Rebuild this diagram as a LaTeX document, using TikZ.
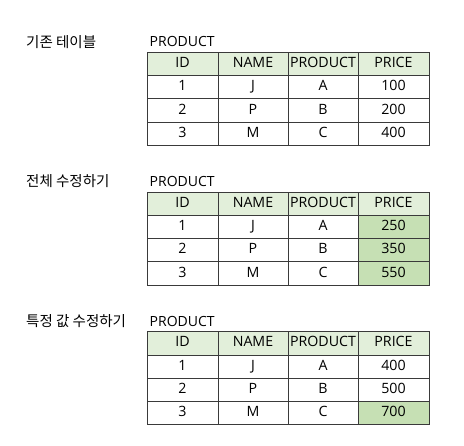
\documentclass[tikz,border=0pt]{standalone}
\usepackage{fontspec}
\setmainfont{Open Sans}
\newfontfamily\krfont{Noto Sans CJK KR}
\definecolor{gridclr}{HTML}{3A3A3A}
\definecolor{headclr}{HTML}{E2EFDA}
\definecolor{hiclr}{HTML}{C6E0B4}
\tikzset{
  cell/.style={draw=gridclr, line width=0.8pt, inner sep=0pt, minimum height=23.25pt,
    text height=1.55ex, text depth=0.2ex, font=\fontsize{14.2}{16}\selectfont},
  wideA/.style={minimum width=71pt},
  wideB/.style={minimum width=70pt},
  lbl/.style={anchor=west, inner sep=0pt, font=\fontsize{14}{16}\selectfont},
  ttl/.style={anchor=west, inner sep=0pt, font=\krfont\fontsize{14.5}{16}\selectfont},
}
\newcommand\prodtable[9]{%
  % #1 prefix, #2 top, #3 title, #4-#6 prices, #7-#9 price fills
  \node[ttl] (#1-title) at (26,{#2-10.5}) {#3};
  \node[lbl] (#1-lbl) at (149.5,{#2-10.5}) {PRODUCT};
  \node[cell,wideA,fill=headclr] (#1-h1) at (182.5,{#2+11.6}) {ID};
  \node[cell,wideB,fill=headclr] (#1-h2) at (253,{#2+11.6}) {NAME};
  \node[cell,wideB,fill=headclr] (#1-h3) at (323,{#2+11.6}) {PRODUCT};
  \node[cell,wideA,fill=headclr] (#1-h4) at (393.5,{#2+11.6}) {PRICE};
  \node[cell,wideA] (#1-r1c1) at (182.5,{#2+34.9}) {1};
  \node[cell,wideB] (#1-r1c2) at (253,{#2+34.9}) {J};
  \node[cell,wideB] (#1-r1c3) at (323,{#2+34.9}) {A};
  \node[cell,wideA,fill=#7] (#1-r1c4) at (393.5,{#2+34.9}) {#4};
  \node[cell,wideA] (#1-r2c1) at (182.5,{#2+58.1}) {2};
  \node[cell,wideB] (#1-r2c2) at (253,{#2+58.1}) {P};
  \node[cell,wideB] (#1-r2c3) at (323,{#2+58.1}) {B};
  \node[cell,wideA,fill=#8] (#1-r2c4) at (393.5,{#2+58.1}) {#5};
  \node[cell,wideA] (#1-r3c1) at (182.5,{#2+81.4}) {3};
  \node[cell,wideB] (#1-r3c2) at (253,{#2+81.4}) {M};
  \node[cell,wideB] (#1-r3c3) at (323,{#2+81.4}) {C};
  \node[cell,wideA,fill=#9] (#1-r3c4) at (393.5,{#2+81.4}) {#6};
}
\begin{document}
\begin{tikzpicture}[x=1pt,y=-1pt]
  \useasboundingbox[fill=white] (0,0) rectangle (464,446);
  \prodtable{ta}{52.3}{기존 테이블}{100}{200}{400}{white}{white}{white}
  \prodtable{tb}{192}{전체 수정하기}{250}{350}{550}{hiclr}{hiclr}{hiclr}
  \prodtable{tc}{331.7}{특정 값 수정하기}{400}{500}{700}{white}{white}{hiclr}
\end{tikzpicture}
\end{document}
